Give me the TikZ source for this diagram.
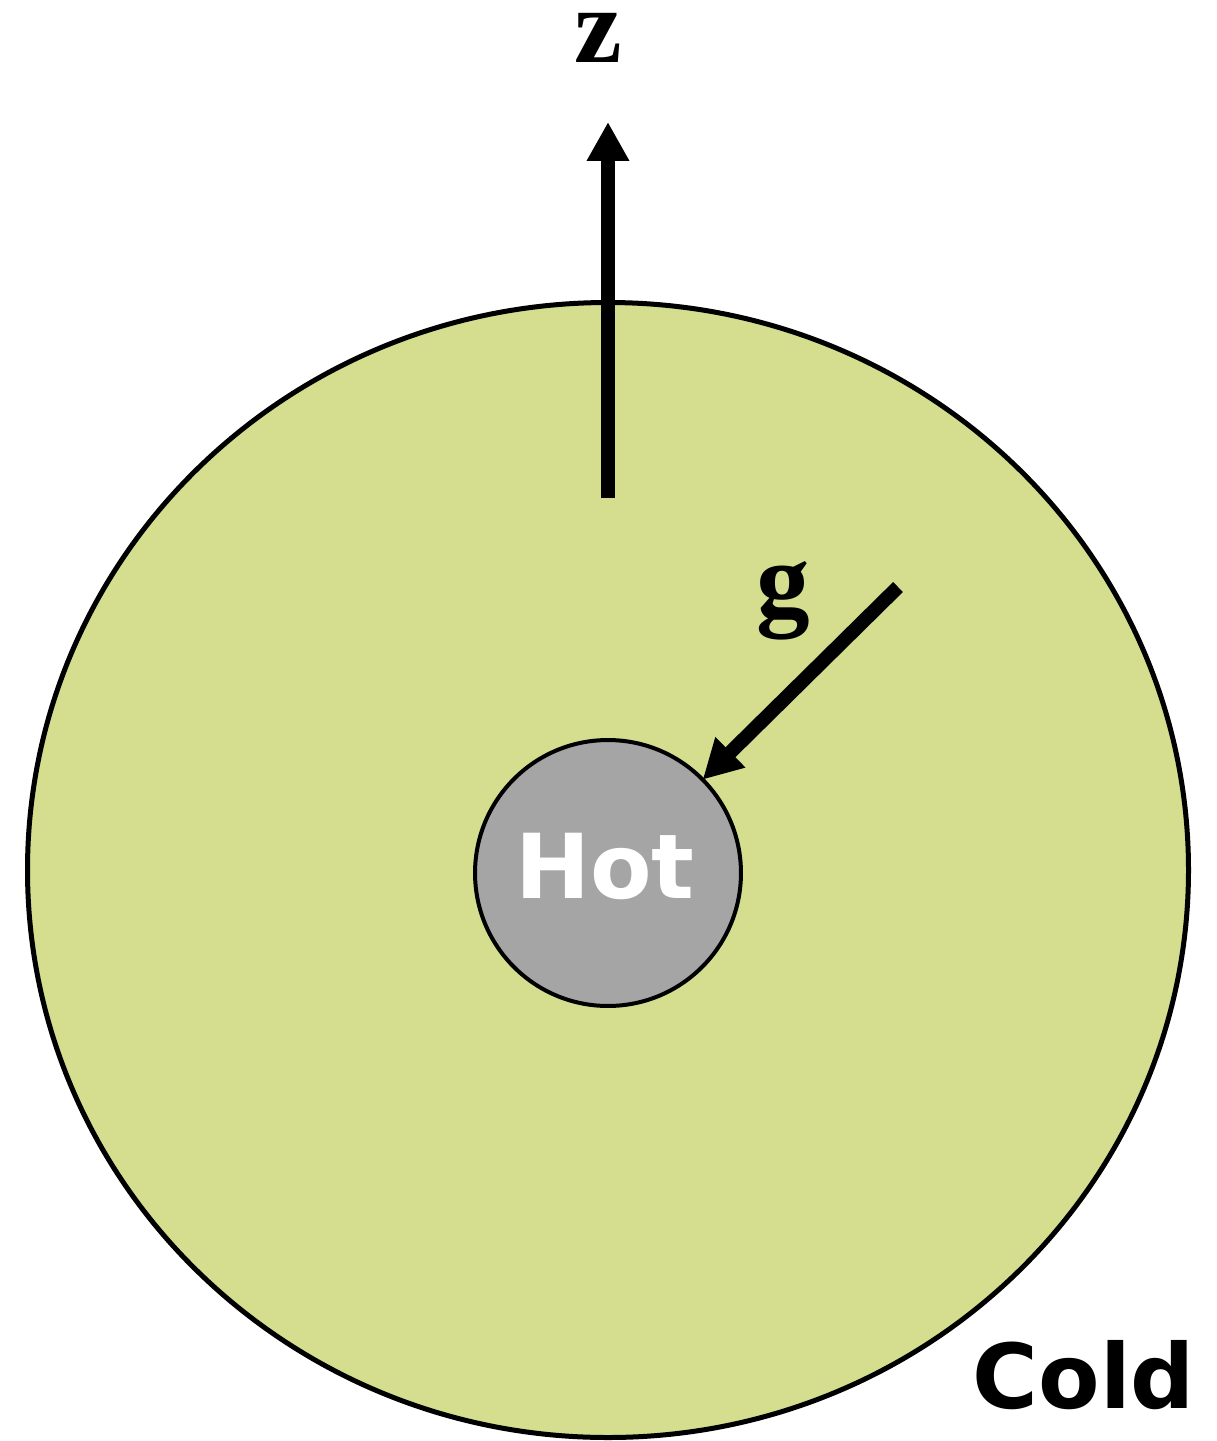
\documentclass[tikz,border=0pt]{standalone}
\usepackage{fontspec}
\usetikzlibrary{arrows.meta}
\newfontfamily\labelfont{Liberation Serif}
\newfontfamily\heavyfont{DejaVu Sans}
\definecolor{PaleGreen}{RGB}{212,222,142}
\definecolor{AshGray}{RGB}{165,165,165}

\begin{document}
\begin{tikzpicture}[x=0.02cm, y=0.02cm,
    axisarrow/.style={line width=0.28cm, -{Triangle[length=0.78cm,width=0.8cm]}},
    axislabel/.style={anchor=base, inner sep=0, font=\labelfont\bfseries\fontsize{61}{61}\selectfont},
    tempword/.style={anchor=base, inner sep=0, font=\heavyfont\bfseries\fontsize{51}{51}\selectfont}]
    % Frame of the whole picture (pixel grid, y downwards)
    \useasboundingbox (0,0) rectangle (1217,-1441);

    % Cold outer body
    \draw[fill=PaleGreen, line width=0.1cm] (608,-870) ellipse [x radius=580.5, y radius=567.5];

    % Hot core
    \node (hot) [circle, draw, fill=AshGray, line width=0.08cm,
        minimum size=5.32cm, inner sep=0, outer sep=0] at (608,-873) {};
    \node (hottext) [tempword, text=white] at (605,-898) {Hot};
    \node (coldtext) [tempword] at (1084,-1408) {Cold};

    % Vertical axis
    \coordinate (zbase) at (608,-498);
    \coordinate (ztip) at (608,-122);
    \draw[axisarrow] (zbase) -- (ztip);
    \node (zlabel) [axislabel] at (598,-62) {z};

    % Gravity pointing to the core
    \coordinate (gstart) at (898,-587);
    \draw[axisarrow] (gstart) -- (hot);
    \node (glabel) [axislabel] at (783,-616) {g};
\end{tikzpicture}
\end{document}
